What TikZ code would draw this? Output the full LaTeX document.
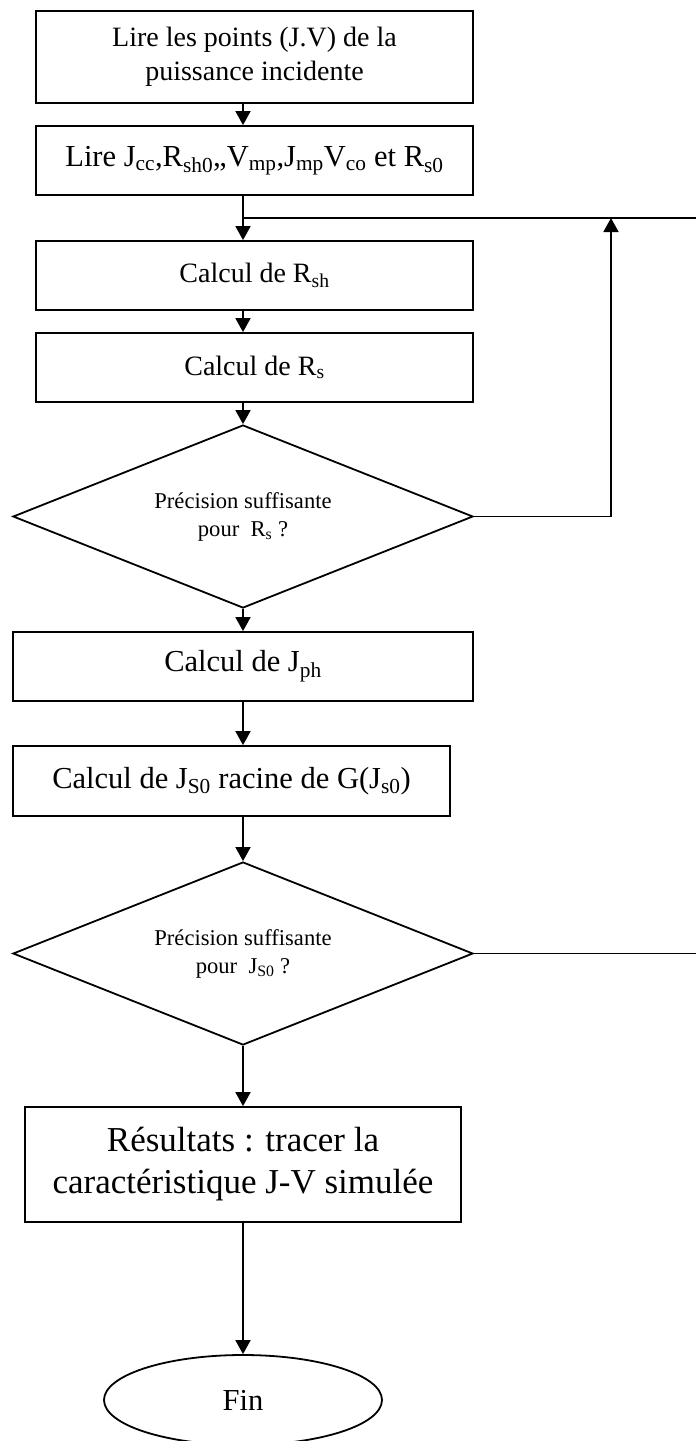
\documentclass[tikz,border=0pt]{standalone}
\usepackage{fontspec}
\setmainfont{Liberation Serif}
\usetikzlibrary{arrows.meta,shapes.geometric,positioning,calc}
\begin{document}
\begin{tikzpicture}
[x=1pt,y=-1pt,
mybox/.style={shape=rectangle,draw=black,line width=1.8pt,inner sep=0pt,align=center,
font=\fontsize{28}{34}\selectfont},
bigtxt/.style={font=\fontsize{30.5}{37}\selectfont},
hugetxt/.style={font=\fontsize{35}{42}\selectfont},
mydiam/.style={shape=diamond,draw=black,line width=1.8pt,inner sep=0pt,aspect=2.5,
align=center,minimum width=460pt,minimum height=183pt,font=\fontsize{22.6}{28}\selectfont},
myend/.style={shape=ellipse,draw=black,line width=1.8pt,inner sep=0pt,
minimum width=278pt,minimum height=90pt},
myedge/.style={line width=1.8pt},
myarrow/.style={myedge,-{Triangle[length=14pt,width=15pt]}}]
\useasboundingbox (0,0) rectangle (696,1441);
%%%%%%%%%%
%% steps
\node (b1) [mybox,minimum width=437pt,minimum height=92pt] at (254.5,57)
{Lire les points (J.V) de la\\puissance incidente};
\node (b2) [mybox,bigtxt,minimum width=437pt,minimum height=69pt] at (254.5,160.5)
{Lire J\textsubscript{cc},R\textsubscript{sh0},,V\textsubscript{mp},J\textsubscript{mp}V\textsubscript{co} et R\textsubscript{s0}};
\node (b3) [mybox,minimum width=437pt,minimum height=69pt] at (254.5,275.5)
{Calcul de R\textsubscript{sh}};
\node (b4) [mybox,minimum width=437pt,minimum height=69pt] at (254.5,367.5)
{Calcul de R\textsubscript{s}};
\node (d1) [mydiam] at (243,516.5) {Précision suffisante\\pour\ \ R\textsubscript{s} ?};
\node (b5) [mybox,bigtxt,minimum width=460pt,minimum height=69pt] at (243,666.5)
{Calcul de J\textsubscript{ph}};
\node (b6) [mybox,bigtxt,minimum width=437pt,minimum height=70pt] at (231.5,781)
{Calcul de J\textsubscript{S0} racine de G(J\textsubscript{s0})};
\node (d2) [mydiam] at (243,953.5) {Précision suffisante\\pour\ \ J\textsubscript{S0} ?};
\node (b7) [mybox,hugetxt,minimum width=436pt,minimum height=115pt] at (243,1164.5)
{Résultats : tracer la\\caractéristique J-V simulée};
\node (fin) [myend,bigtxt] at (243,1400) {Fin};
%% loop points
\coordinate (jn) at (243,218);
\coordinate (up) at (611,218);
\coordinate (out1) at (700,218);
\coordinate (out2) at (700,953.5);
%% connectors
\draw[myarrow] (b1.south -| d1) -- (b2.north -| d1);
\draw[myarrow] (b2.south -| d1) -- (b3.north -| d1);
\draw[myedge] (jn) -- (out1);
\draw[myarrow] (b3.south -| d1) -- (b4.north -| d1);
\draw[myarrow] (b4.south -| d1) -- (d1.north);
\draw[myarrow] (d1.east) -| (up);
\draw[myarrow] (d1.south) -- (b5.north);
\draw[myarrow] (b5.south) -- (b6.north -| b5);
\draw[myarrow] (b6.south -| d2) -- (d2.north);
\draw[myedge] (d2.east) -- (out2);
\draw[myarrow] (d2.south) -- (b7.north);
\draw[myarrow] (b7.south) -- (fin.north);
\end{tikzpicture}
\end{document}
